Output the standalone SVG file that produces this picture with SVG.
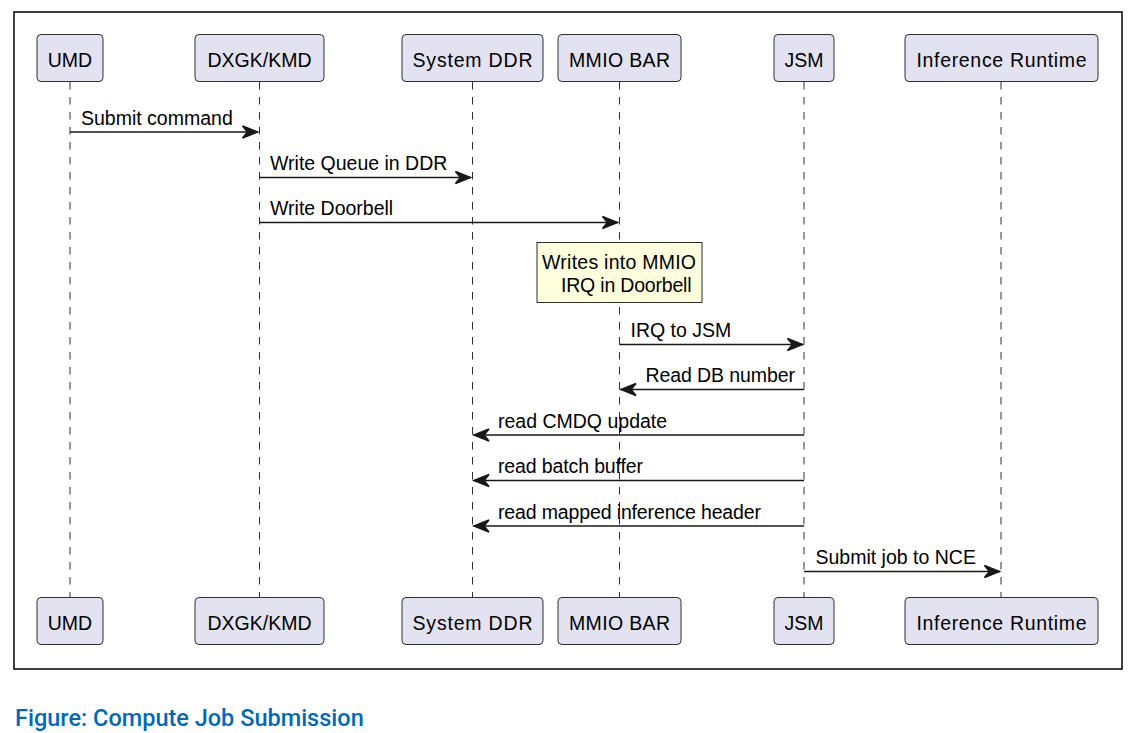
<svg xmlns="http://www.w3.org/2000/svg" width="1144" height="733" viewBox="0 0 1144 733">
<style>
.box{fill:#E2E2F0;stroke:#181818;stroke-width:0.9}
.t{font-family:"Liberation Sans",Arial,sans-serif;font-size:19.5px;fill:#000}
.life{stroke:#181818;stroke-width:0.9;stroke-dasharray:7.5,7.5;fill:none}
.msg{stroke:#181818;stroke-width:1.6;fill:none}
.cap{font-family:Roboto,"Liberation Sans",sans-serif;font-size:23.5px;font-weight:500;fill:#0068B5}
</style>
<defs>
<marker id="ah" viewBox="-2 -2 20 16" refX="15.5" refY="6" markerWidth="20" markerHeight="16" markerUnits="userSpaceOnUse" orient="auto">
<path d="M0,0 L15,6 L0,12 L5,6 Z" fill="#181818" stroke="#181818" stroke-width="1.5" stroke-linejoin="miter"/>
</marker>
</defs>
<rect x="14" y="12" width="1108" height="657" fill="#fff" stroke="#000" stroke-width="1.5"/>
<g id="lifelines">
<line class="life" x1="70" y1="82" x2="70" y2="597"/>
<line class="life" x1="259.5" y1="82" x2="259.5" y2="597"/>
<line class="life" x1="472.5" y1="82" x2="472.5" y2="597"/>
<line class="life" x1="619.5" y1="82" x2="619.5" y2="597"/>
<line class="life" x1="804" y1="82" x2="804" y2="597"/>
<line class="life" x1="1001" y1="82" x2="1001" y2="597"/>
</g>
<g id="p-umd">
<rect class="box" x="37" y="34.5" width="66" height="47" rx="4"/>
<text class="t" x="70" y="67" text-anchor="middle">UMD</text>
<rect class="box" x="37" y="597.5" width="66" height="47" rx="4"/>
<text class="t" x="70" y="630" text-anchor="middle">UMD</text>
</g>
<g id="p-dxgk">
<rect class="box" x="195" y="34.5" width="129" height="47" rx="4"/>
<text class="t" x="259.5" y="67" text-anchor="middle">DXGK/KMD</text>
<rect class="box" x="195" y="597.5" width="129" height="47" rx="4"/>
<text class="t" x="259.5" y="630" text-anchor="middle">DXGK/KMD</text>
</g>
<g id="p-ddr">
<rect class="box" x="402" y="34.5" width="141" height="47" rx="4"/>
<text class="t" x="472.5" y="67" text-anchor="middle" textLength="120" lengthAdjust="spacing">System DDR</text>
<rect class="box" x="402" y="597.5" width="141" height="47" rx="4"/>
<text class="t" x="472.5" y="630" text-anchor="middle" textLength="120" lengthAdjust="spacing">System DDR</text>
</g>
<g id="p-mmio">
<rect class="box" x="558" y="34.5" width="123" height="47" rx="4"/>
<text class="t" x="619.5" y="67" text-anchor="middle" textLength="101" lengthAdjust="spacing">MMIO BAR</text>
<rect class="box" x="558" y="597.5" width="123" height="47" rx="4"/>
<text class="t" x="619.5" y="630" text-anchor="middle" textLength="101" lengthAdjust="spacing">MMIO BAR</text>
</g>
<g id="p-jsm">
<rect class="box" x="774" y="34.5" width="60" height="47" rx="4"/>
<text class="t" x="804" y="67" text-anchor="middle">JSM</text>
<rect class="box" x="774" y="597.5" width="60" height="47" rx="4"/>
<text class="t" x="804" y="630" text-anchor="middle">JSM</text>
</g>
<g id="p-ir">
<rect class="box" x="905" y="34.5" width="193" height="47" rx="4"/>
<text class="t" x="1001.5" y="67" text-anchor="middle" textLength="170" lengthAdjust="spacing">Inference Runtime</text>
<rect class="box" x="905" y="597.5" width="193" height="47" rx="4"/>
<text class="t" x="1001.5" y="630" text-anchor="middle" textLength="170" lengthAdjust="spacing">Inference Runtime</text>
</g>
<g id="note">
<rect x="537" y="242.5" width="165" height="60" fill="#FEFFDD" stroke="#181818" stroke-width="0.9"/>
<text class="t" x="542" y="269" textLength="154" lengthAdjust="spacing">Writes into MMIO</text>
<text class="t" x="561" y="292" textLength="130.5" lengthAdjust="spacing">IRQ in Doorbell</text>
</g>
<g id="connectors">
<line class="msg" x1="70" y1="132" x2="258" y2="132" marker-end="url(#ah)"/>
<text class="t" x="81" y="125">Submit command</text>
<line class="msg" x1="259.5" y1="177.5" x2="471" y2="177.5" marker-end="url(#ah)"/>
<text class="t" x="270" y="170">Write Queue in DDR</text>
<line class="msg" x1="259.5" y1="222.5" x2="618" y2="222.5" marker-end="url(#ah)"/>
<text class="t" x="270" y="215">Write Doorbell</text>
<line class="msg" x1="619.5" y1="344.5" x2="803" y2="344.5" marker-end="url(#ah)"/>
<text class="t" x="630.5" y="337">IRQ to JSM</text>
<line class="msg" x1="804" y1="389.5" x2="620.5" y2="389.5" marker-end="url(#ah)"/>
<text class="t" x="645.5" y="382" textLength="149.5" lengthAdjust="spacing">Read DB number</text>
<line class="msg" x1="804" y1="435" x2="473.5" y2="435" marker-end="url(#ah)"/>
<text class="t" x="498" y="428">read CMDQ update</text>
<line class="msg" x1="804" y1="480.5" x2="473.5" y2="480.5" marker-end="url(#ah)"/>
<text class="t" x="498" y="473" textLength="145" lengthAdjust="spacing">read batch buffer</text>
<line class="msg" x1="804" y1="526" x2="473.5" y2="526" marker-end="url(#ah)"/>
<text class="t" x="498" y="519" textLength="263" lengthAdjust="spacing">read mapped inference header</text>
<line class="msg" x1="804" y1="571.5" x2="1000" y2="571.5" marker-end="url(#ah)"/>
<text class="t" x="815.5" y="564">Submit job to NCE</text>
</g>
<text class="cap" x="15" y="726">Figure: Compute Job Submission</text>
</svg>
